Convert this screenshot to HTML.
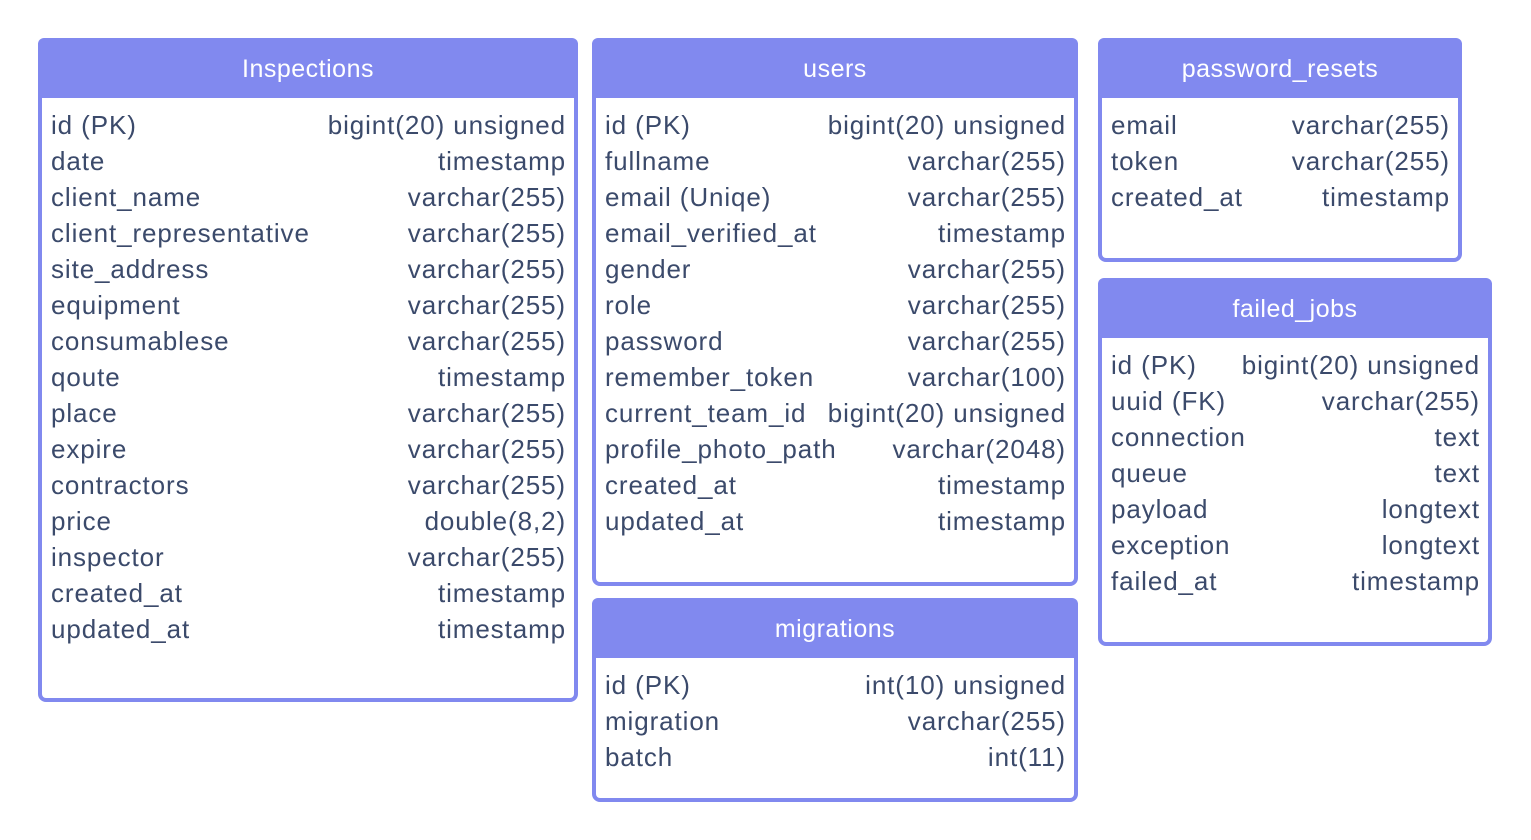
<!DOCTYPE html>
<html><head><meta charset="utf-8"><style>
body{margin:0;width:1531px;height:840px;background:#fff;position:relative;overflow:hidden;font-family:"Liberation Sans",sans-serif;}
.t{position:absolute;box-sizing:border-box;border:4px solid #8189ef;border-radius:8px;background:#fff;}
.h{background:#8189ef;height:60px;margin:-4px -4px 0 -4px;border-radius:6px 6px 0 0;color:#fff;font-size:25px;letter-spacing:0.5px;text-align:center;line-height:62px;}
.r{display:flex;justify-content:space-between;padding:0 8px 0 9px;height:36px;line-height:36px;font-size:26px;letter-spacing:0.9px;color:#3b4a6b;white-space:nowrap;}
.b{padding-top:9px;}
</style></head><body>
<div class="t" style="left:38px;top:38px;width:540px;height:664px">
<div class="h">Inspections</div><div class="b">
<div class="r"><span>id (PK)</span><span>bigint(20) unsigned</span></div>
<div class="r"><span>date</span><span>timestamp</span></div>
<div class="r"><span>client_name</span><span>varchar(255)</span></div>
<div class="r"><span>client_representative</span><span>varchar(255)</span></div>
<div class="r"><span>site_address</span><span>varchar(255)</span></div>
<div class="r"><span>equipment</span><span>varchar(255)</span></div>
<div class="r"><span>consumablese</span><span>varchar(255)</span></div>
<div class="r"><span>qoute</span><span>timestamp</span></div>
<div class="r"><span>place</span><span>varchar(255)</span></div>
<div class="r"><span>expire</span><span>varchar(255)</span></div>
<div class="r"><span>contractors</span><span>varchar(255)</span></div>
<div class="r"><span>price</span><span>double(8,2)</span></div>
<div class="r"><span>inspector</span><span>varchar(255)</span></div>
<div class="r"><span>created_at</span><span>timestamp</span></div>
<div class="r"><span>updated_at</span><span>timestamp</span></div>
</div></div>
<div class="t" style="left:592px;top:38px;width:486px;height:548px">
<div class="h">users</div><div class="b">
<div class="r"><span>id (PK)</span><span>bigint(20) unsigned</span></div>
<div class="r"><span>fullname</span><span>varchar(255)</span></div>
<div class="r"><span>email (Uniqe)</span><span>varchar(255)</span></div>
<div class="r"><span>email_verified_at</span><span>timestamp</span></div>
<div class="r"><span>gender</span><span>varchar(255)</span></div>
<div class="r"><span>role</span><span>varchar(255)</span></div>
<div class="r"><span>password</span><span>varchar(255)</span></div>
<div class="r"><span>remember_token</span><span>varchar(100)</span></div>
<div class="r"><span>current_team_id</span><span>bigint(20) unsigned</span></div>
<div class="r"><span>profile_photo_path</span><span>varchar(2048)</span></div>
<div class="r"><span>created_at</span><span>timestamp</span></div>
<div class="r"><span>updated_at</span><span>timestamp</span></div>
</div></div>
<div class="t" style="left:592px;top:598px;width:486px;height:204px">
<div class="h">migrations</div><div class="b">
<div class="r"><span>id (PK)</span><span>int(10) unsigned</span></div>
<div class="r"><span>migration</span><span>varchar(255)</span></div>
<div class="r"><span>batch</span><span>int(11)</span></div>
</div></div>
<div class="t" style="left:1098px;top:38px;width:364px;height:224px">
<div class="h">password_resets</div><div class="b">
<div class="r"><span>email</span><span>varchar(255)</span></div>
<div class="r"><span>token</span><span>varchar(255)</span></div>
<div class="r"><span>created_at</span><span>timestamp</span></div>
</div></div>
<div class="t" style="left:1098px;top:278px;width:394px;height:368px">
<div class="h">failed_jobs</div><div class="b">
<div class="r"><span>id (PK)</span><span>bigint(20) unsigned</span></div>
<div class="r"><span>uuid (FK)</span><span>varchar(255)</span></div>
<div class="r"><span>connection</span><span>text</span></div>
<div class="r"><span>queue</span><span>text</span></div>
<div class="r"><span>payload</span><span>longtext</span></div>
<div class="r"><span>exception</span><span>longtext</span></div>
<div class="r"><span>failed_at</span><span>timestamp</span></div>
</div></div>
</body></html>
